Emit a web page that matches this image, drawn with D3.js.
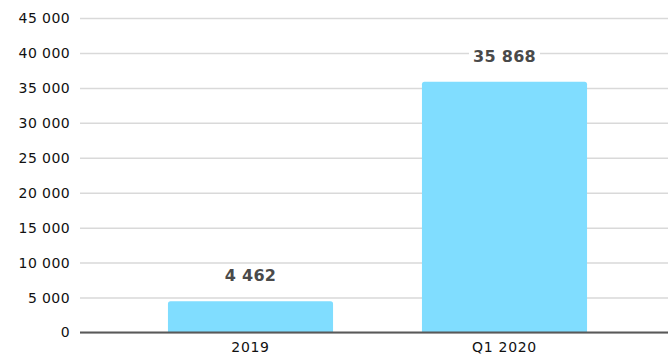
<!DOCTYPE html>
<html>
<head>
<meta charset="utf-8">
<script src="https://cdn.jsdelivr.net/npm/d3@7"></script>
<style>
  html, body { margin: 0; padding: 0; background: #fff; }
  svg { display: block; }
</style>
</head>
<body>
<svg id="chart" width="668" height="355"></svg>
<script>
// Data
const categories = ["2019", "Q1 2020"];
const values = [4462, 35868];
const yTicks = [0, 5000, 10000, 15000, 20000, 25000, 30000, 35000, 40000, 45000];

const W = 668, H = 355;
const gridLeft = 80, gridRight = 668;
const svg = d3.select("#chart");

// Numbers use a space as thousands separator
const fmt = d3.formatLocale({ decimal: ",", thousands: " ", grouping: [3], currency: ["", ""] }).format(",d");

const y = d3.scaleLinear().domain([0, 45000]).range([332.5, 18]);
const x = d3.scaleBand().domain(categories).range([123.5, 631.5])
  .paddingInner(0.35).paddingOuter(0.175);

// Horizontal gridlines with tick labels
const yAxis = d3.axisLeft(y).tickValues(yTicks).tickFormat(fmt)
  .tickSize(gridLeft - gridRight).tickPadding(10);
const gy = svg.append("g").attr("transform", `translate(${gridLeft},0)`).call(yAxis);
gy.select(".domain").remove();
gy.selectAll(".tick line").attr("stroke", "#d9d9d9").attr("stroke-width", 1.5)
  .attr("x1", 0).attr("x2", gridRight - gridLeft);
gy.selectAll(".tick text")
  .attr("x", -10)
  .attr("fill", "#111")
  .style("font-family", "'DejaVu Sans', sans-serif")
  .style("font-size", "14px")
  .style("letter-spacing", "0.4px");

// Bars with slightly rounded top corners
const r = 2.5;
svg.append("g").selectAll("path").data(values).join("path")
  .attr("fill", "#80ddff")
  .attr("d", (d, i) => {
    const x0 = x(categories[i]), x1 = x0 + x.bandwidth();
    const yt = y(d), yb = y(0);
    return `M${x0},${yb}V${yt + r}Q${x0},${yt} ${x0 + r},${yt}H${x1 - r}Q${x1},${yt} ${x1},${yt + r}V${yb}Z`;
  });

// Baseline
svg.append("line")
  .attr("x1", gridLeft).attr("x2", gridRight)
  .attr("y1", y(0)).attr("y2", y(0))
  .attr("stroke", "#595959").attr("stroke-width", 2);

// Category labels
const xAxis = d3.axisBottom(x).tickSize(0).tickPadding(0);
const gx = svg.append("g").attr("transform", `translate(0,${y(0)})`).call(xAxis);
gx.select(".domain").remove();
gx.selectAll(".tick text")
  .attr("y", 19).attr("dy", 0)
  .attr("fill", "#111")
  .style("font-family", "'DejaVu Sans', sans-serif")
  .style("font-size", "14px")
  .style("letter-spacing", "0.7px");

// Value labels on a white backing so gridlines stop at the text
const lab = svg.append("g").selectAll("g").data(values).join("g")
  .attr("transform", (d, i) => `translate(${x(categories[i]) + x.bandwidth() / 2},${y(d) - 20})`);
lab.append("rect").attr("fill", "#fff");
lab.append("text")
  .attr("text-anchor", "middle")
  .attr("fill", "#4a4a4a")
  .style("font-family", "'DejaVu Sans', sans-serif")
  .style("font-weight", "bold")
  .style("font-size", "16px")
  .style("letter-spacing", "0.3px")
  .text(d => fmt(d));
lab.each(function () {
  const g = d3.select(this);
  const b = g.select("text").node().getBBox();
  g.select("rect").attr("x", b.x - 4).attr("y", b.y).attr("width", b.width + 8).attr("height", b.height);
});
</script>
</body>
</html>
